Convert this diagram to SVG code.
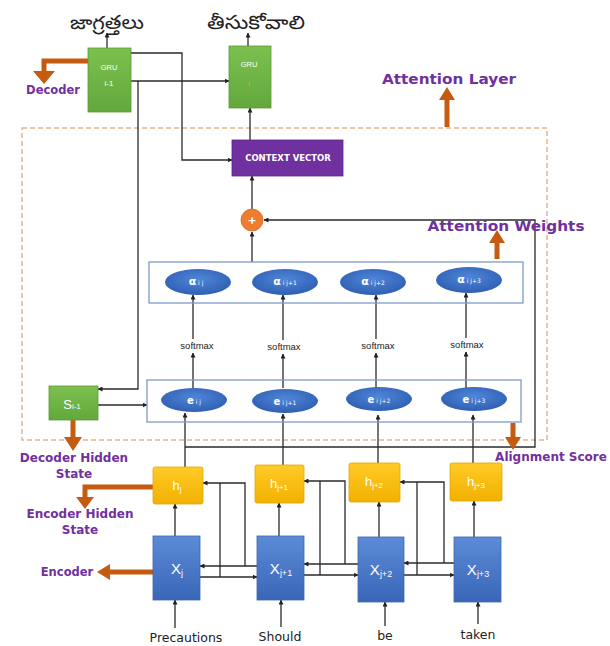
<svg xmlns="http://www.w3.org/2000/svg" width="610" height="646" viewBox="0 0 610 646">
<defs>
<marker id="ar" viewBox="0 0 10 10" refX="9" refY="5" markerWidth="5" markerHeight="5" orient="auto" markerUnits="userSpaceOnUse">
<path d="M0,0 L10,5 L0,10 z" fill="#222"/>
</marker>
<linearGradient id="gb" x1="0" y1="0" x2="0" y2="1"><stop offset="0" stop-color="#5b8bd6"/><stop offset="1" stop-color="#3a66b8"/></linearGradient>
<linearGradient id="gy" x1="0" y1="0" x2="0" y2="1"><stop offset="0" stop-color="#ffca28"/><stop offset="1" stop-color="#f2b100"/></linearGradient>
<linearGradient id="gg" x1="0" y1="0" x2="0" y2="1"><stop offset="0" stop-color="#7cc04f"/><stop offset="1" stop-color="#62a83c"/></linearGradient>
<radialGradient id="ge" cx="0.5" cy="0.4" r="0.6"><stop offset="0" stop-color="#4f86d9"/><stop offset="1" stop-color="#2f5fb3"/></radialGradient>
</defs>
<style>
.ln{fill:none;stroke:#2a2a2a;stroke-width:1.3}
.la{fill:none;stroke:#2a2a2a;stroke-width:1.3;marker-end:url(#ar)}
.oa{fill:none;stroke:#c55a11;stroke-width:5}
.oh{fill:#c55a11}
.pl{font-family:"DejaVu Sans",sans-serif;font-weight:bold;fill:#7030a0;text-anchor:middle}
.wd{font-family:"DejaVu Sans",sans-serif;font-size:12.5px;fill:#222;text-anchor:middle}
.sm{font-family:"Liberation Sans",sans-serif;font-size:9.5px;fill:#222;text-anchor:middle}
.wt{font-family:"Liberation Sans",sans-serif;fill:#fff;text-anchor:middle}
.wb{font-family:"DejaVu Sans",sans-serif;font-weight:bold;fill:#fff;text-anchor:middle}
.te{font-family:"Noto Sans Telugu","Noto Sans","DejaVu Sans",sans-serif;font-size:19px;fill:#222;text-anchor:middle}
.xb{fill:url(#gb);stroke:#3d67ad;stroke-width:0.8}
.hb{fill:url(#gy);stroke:#e0a800;stroke-width:0.8}
.gr{fill:url(#gg);stroke:#5a9a36;stroke-width:0.8}
.el{fill:url(#ge)}
.rb{fill:none;stroke:#7e9cc8;stroke-width:1.3}
</style>
<rect x="0" y="0" width="610" height="646" fill="#fff"/>

<!-- attention layer dashed box -->
<rect id="attention-layer" x="22" y="128" width="525" height="312" fill="none" stroke="#e8b48a" stroke-width="1.5" stroke-dasharray="5 3"/>

<!-- connectors -->
<g id="connectors">
<path class="la" d="M107,48 V33"/>
<path class="la" d="M248,46 V33"/>
<path class="la" d="M131,81 H229"/>
<path class="la" d="M138,81 V389 H98"/>
<path class="la" d="M131,53 H182 V160 H232"/>
<path class="la" d="M250,140 V108"/>
<path class="la" d="M252,209 V176"/>
<path class="la" d="M252,262 V232"/>
<path class="la" d="M185,447 H535 V220 H264"/>
<path class="la" d="M98,405 H147"/>
<!-- e -> softmax -> alpha -->
<path class="la" d="M193,388 V353"/><path class="la" d="M193,339 V295"/>
<path class="la" d="M283,388 V354"/><path class="la" d="M283,340 V295"/>
<path class="la" d="M376,389 V353"/><path class="la" d="M376,339 V295"/>
<path class="la" d="M466,389 V352"/><path class="la" d="M466,338 V293"/>
<!-- h -> e -->
<path class="la" d="M185,467 V413"/>
<path class="la" d="M283,465 V414"/>
<path class="la" d="M378,463 V415"/>
<path class="la" d="M473,463 V415"/>
<!-- X -> h -->
<path class="la" d="M175,536 V504"/>
<path class="la" d="M279,536 V503"/>
<path class="la" d="M379,537 V502"/>
<path class="la" d="M474,537 V501"/>
<!-- words -> X -->
<path class="la" d="M175,628 V600"/>
<path class="la" d="M281,627 V600"/>
<path class="la" d="M385,626 V602"/>
<path class="la" d="M478,624 V602"/>
<!-- recurrent encoder links -->
<path class="la" d="M257,566 H200"/>
<path class="la" d="M200,577 H257"/>
<path class="la" d="M245,566 V483 H203"/>
<path class="ln" d="M220,577 V483"/>
<path class="la" d="M358,564 H304"/>
<path class="la" d="M304,575 H358"/>
<path class="la" d="M345,564 V481 H304"/>
<path class="ln" d="M320,575 V481"/>
<path class="la" d="M454,563 H404"/>
<path class="la" d="M404,575 H454"/>
<path class="la" d="M444,563 V482 H400"/>
<path class="ln" d="M417,575 V482"/>
</g>

<!-- orange block arrows and labels -->
<g id="label-decoder">
<path class="oa" d="M88,61 H44 V72"/>
<polygon class="oh" points="33,71 55,71 44,84"/>
<text class="pl" x="53" y="94" font-size="11.5">Decoder</text>
</g>
<g id="label-attention-layer">
<path class="oa" d="M447,127 V99"/>
<polygon class="oh" points="439,100 455,100 447,87"/>
<text class="pl" x="449" y="84" font-size="14" textLength="134" lengthAdjust="spacingAndGlyphs">Attention Layer</text>
</g>
<g id="label-attention-weights">
<path class="oa" d="M497,259 V242"/>
<polygon class="oh" points="489,243 505,243 497,230"/>
<text class="pl" x="506" y="231" font-size="14" textLength="157" lengthAdjust="spacingAndGlyphs">Attention Weights</text>
</g>
<g id="label-alignment-score">
<path class="oa" d="M513,423 V438"/>
<polygon class="oh" points="505,437 521,437 513,450"/>
<text class="pl" x="551" y="461" font-size="12">Alignment Score</text>
</g>
<g id="label-decoder-hidden">
<path class="oa" d="M73,420 V438"/>
<polygon class="oh" points="64,437 82,437 73,451"/>
<text class="pl" x="74" y="462" font-size="12">Decoder Hidden</text>
<text class="pl" x="74" y="478" font-size="12">State</text>
</g>
<g id="label-encoder-hidden">
<path class="oa" d="M153,487 H85 V498"/>
<polygon class="oh" points="76,497 94,497 85,509"/>
<text class="pl" x="80" y="518" font-size="12">Encoder Hidden</text>
<text class="pl" x="80" y="534" font-size="12">State</text>
</g>
<g id="label-encoder">
<path class="oa" d="M153,572 H108"/>
<polygon class="oh" points="110,564 110,580 97,572"/>
<text class="pl" x="67" y="576" font-size="11.5">Encoder</text>
</g>

<!-- decoder -->
<g id="gru-i-1">
<rect class="gr" x="88" y="48" width="43" height="64"/>
<text class="wt" x="109" y="70" font-size="7.5">GRU</text>
<text class="wt" x="109" y="86" font-size="8">i-1</text>
</g>
<g id="gru-i">
<rect class="gr" x="229" y="46" width="42" height="62"/>
<text class="wt" x="249" y="67" font-size="7.5">GRU</text>
<text x="249" y="86" font-size="8" font-family="Liberation Sans,sans-serif" fill="#e8a030" text-anchor="middle">i</text>
</g>
<g id="out-label-1"><text class="te" x="107" y="29" textLength="74" lengthAdjust="spacingAndGlyphs">జాగ్రత్తలు</text></g>
<g id="out-label-2"><text class="te" x="256" y="29" textLength="98" lengthAdjust="spacingAndGlyphs">తీసుకోవాలి</text></g>

<g id="context-vector">
<rect x="232" y="140" width="111" height="36" fill="#7030a0" stroke="#5e2788" stroke-width="0.8"/>
<text class="wb" x="288" y="161" font-size="8.5">CONTEXT VECTOR</text>
</g>
<g id="sum">
<circle cx="252" cy="220" r="11" fill="#ed7d31" stroke="#d66a20" stroke-width="0.8"/>
<text class="wb" x="252" y="224" font-size="11">+</text>
</g>

<g id="alpha-row">
<rect class="rb" x="149" y="262" width="374" height="41"/>
<ellipse class="el" cx="198" cy="282" rx="33" ry="13"/>
<text class="wb" x="196" y="285" font-size="11">α<tspan font-size="6" font-weight="normal"> i j</tspan></text>
<ellipse class="el" cx="285" cy="282" rx="33" ry="13"/>
<text class="wb" x="285" y="285" font-size="11">α<tspan font-size="6" font-weight="normal"> i j+1</tspan></text>
<ellipse class="el" cx="373" cy="282" rx="33" ry="13"/>
<text class="wb" x="373" y="285" font-size="11">α<tspan font-size="6" font-weight="normal"> i j+2</tspan></text>
<ellipse class="el" cx="469" cy="280" rx="33" ry="13"/>
<text class="wb" x="469" y="283" font-size="11">α<tspan font-size="6" font-weight="normal"> i j+3</tspan></text>
</g>

<g id="softmax">
<text class="sm" x="197" y="349">softmax</text>
<text class="sm" x="284" y="350">softmax</text>
<text class="sm" x="378" y="349">softmax</text>
<text class="sm" x="467" y="348">softmax</text>
</g>

<g id="e-row">
<rect class="rb" x="147" y="380" width="374" height="42"/>
<ellipse class="el" cx="194" cy="400" rx="33" ry="12"/>
<text class="wb" x="194" y="404" font-size="10">e<tspan font-size="6" font-weight="normal"> i j</tspan></text>
<ellipse class="el" cx="285" cy="401" rx="33" ry="12"/>
<text class="wb" x="285" y="405" font-size="10">e<tspan font-size="6" font-weight="normal"> i j+1</tspan></text>
<ellipse class="el" cx="379" cy="399" rx="33" ry="12"/>
<text class="wb" x="379" y="403" font-size="10">e<tspan font-size="6" font-weight="normal"> i j+2</tspan></text>
<ellipse class="el" cx="474" cy="399" rx="33" ry="12"/>
<text class="wb" x="474" y="403" font-size="10">e<tspan font-size="6" font-weight="normal"> i j+3</tspan></text>
</g>

<g id="s-i-1">
<rect class="gr" x="49" y="386" width="49" height="34"/>
<text class="wt" x="72" y="409" font-size="13">S<tspan font-size="8">i-1</tspan></text>
</g>

<!-- encoder hidden states -->
<g id="h-j"><rect class="hb" x="153" y="467" width="50" height="37" rx="2"/>
<text class="wt" x="177" y="490" font-size="13">h<tspan font-size="8" dy="2">j</tspan></text></g>
<g id="h-j1"><rect class="hb" x="255" y="465" width="49" height="38" rx="2"/>
<text class="wt" x="279" y="488" font-size="13">h<tspan font-size="8" dy="2">j+1</tspan></text></g>
<g id="h-j2"><rect class="hb" x="349" y="463" width="51" height="39" rx="2"/>
<text class="wt" x="374" y="486" font-size="13">h<tspan font-size="8" dy="2">j+2</tspan></text></g>
<g id="h-j3"><rect class="hb" x="450" y="463" width="52" height="38" rx="2"/>
<text class="wt" x="476" y="486" font-size="13">h<tspan font-size="8" dy="2">j+3</tspan></text></g>

<!-- encoder inputs -->
<g id="x-j"><rect class="xb" x="153" y="536" width="47" height="64"/>
<text class="wt" x="177" y="574" font-size="15">X<tspan font-size="9" dy="2">j</tspan></text></g>
<g id="x-j1"><rect class="xb" x="257" y="536" width="47" height="64"/>
<text class="wt" x="281" y="574" font-size="15">X<tspan font-size="9" dy="2">j+1</tspan></text></g>
<g id="x-j2"><rect class="xb" x="358" y="537" width="46" height="65"/>
<text class="wt" x="381" y="575" font-size="15">X<tspan font-size="9" dy="2">j+2</tspan></text></g>
<g id="x-j3"><rect class="xb" x="454" y="537" width="47" height="65"/>
<text class="wt" x="478" y="575" font-size="15">X<tspan font-size="9" dy="2">j+3</tspan></text></g>

<g id="words">
<text class="wd" x="186" y="642">Precautions</text>
<text class="wd" x="280" y="641">Should</text>
<text class="wd" x="385" y="640">be</text>
<text class="wd" x="478" y="639">taken</text>
</g>
</svg>
